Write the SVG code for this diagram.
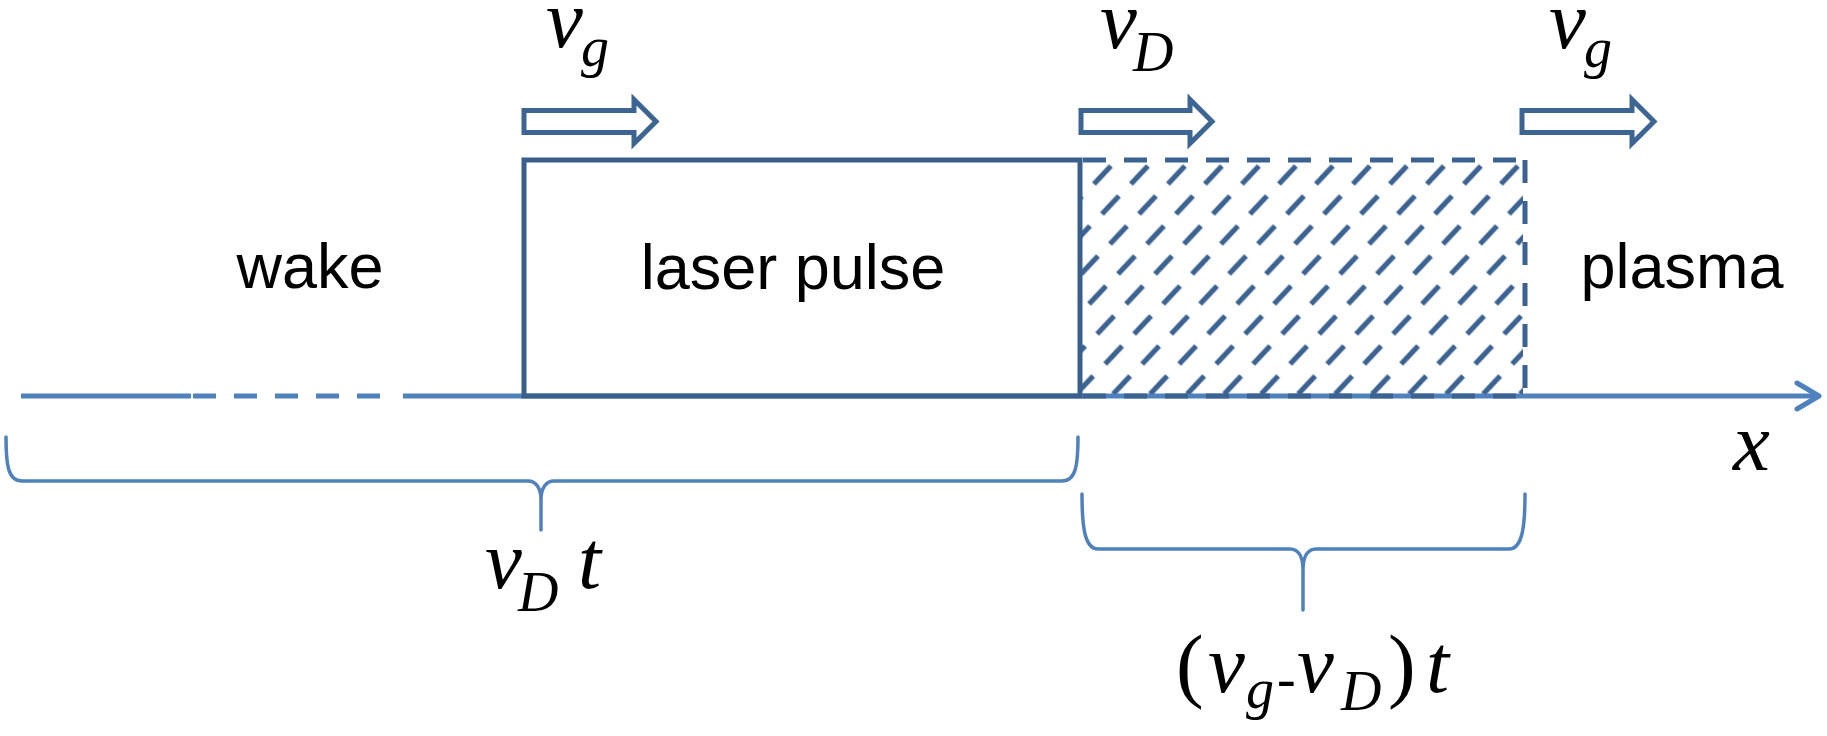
<svg xmlns="http://www.w3.org/2000/svg" width="1827" height="736" viewBox="0 0 1827 736">
<style>
.lbl{font-family:"Liberation Sans",Arial,sans-serif;font-size:63px;fill:#000;text-anchor:middle}
.m{font-family:"Liberation Serif","Times New Roman",serif;font-style:italic;font-size:83px;fill:#000}
.s{font-family:"Liberation Serif","Times New Roman",serif;font-style:italic;font-size:56px;fill:#000}
.up{font-family:"Liberation Serif","Times New Roman",serif;font-style:normal}
.box{fill:none;stroke:#3b5f8c;stroke-width:5}
.arr{fill:#fff;stroke:#3d6594;stroke-width:5;stroke-linejoin:miter}
.axis{fill:none;stroke:#4f81bd;stroke-width:5}
.brace{fill:none;stroke:#4f81bd;stroke-width:3.5;stroke-linecap:round}
.dash{fill:none;stroke:#3b6291;stroke-width:5;stroke-dasharray:23 18}
</style>
<defs>
<pattern id="hatch" patternUnits="userSpaceOnUse" width="37" height="30" patternTransform="translate(1080,160) skewX(15)">
<line x1="7.5" y1="24" x2="29.3" y2="6" stroke="#3b6291" stroke-width="4.5"/>
</pattern>
</defs>
<rect width="1827" height="736" fill="#fff"/>

<g id="connectors">
<path class="axis" d="M21,396 H191"/>
<path class="axis" d="M193,396 H384" stroke-dasharray="23 18"/>
<path class="axis" d="M403,396 H1816"/>
<polyline class="axis" points="1797,383 1819,396 1797,409" stroke-linecap="round" stroke-linejoin="round"/>
<path class="brace" d="M6,437 C6,465 8,481 22,481 H528 C536,481 541,488 541,500 V530 M541,500 C541,488 546,481 554,481 H1062 C1076,481 1078,465 1078,437"/>
<path class="brace" d="M1082,494 C1082,524 1084,549 1098,549 H1290 C1298,549 1303,556 1303,570 V610 M1303,570 C1303,556 1308,549 1316,549 H1509 C1523,549 1525,524 1525,494"/>
</g>

<g id="laser-pulse">
<rect class="box" x="524" y="160" width="556" height="236"/>
<text class="lbl" x="793" y="289">laser pulse</text>
</g>

<g id="hatched-region">
<rect x="1082" y="162" width="441" height="232" fill="url(#hatch)"/>
<path class="dash" d="M1083,160 H1525"/>
<path class="dash" d="M1525,160 V396"/>
<path class="dash" d="M1083,396 H1525"/>
</g>

<g id="wake">
<text class="lbl" x="310" y="288">wake</text>
</g>

<g id="plasma">
<text class="lbl" x="1682" y="288">plasma</text>
</g>

<g id="arrow-vg-left">
<path class="arr" d="M524,110.5 H634 V99.5 L656,121.5 L634,143.5 V132.5 H524 Z"/>
<text class="m" x="546" y="47">v</text><text class="s" x="581" y="66">g</text>
</g>

<g id="arrow-vD">
<path class="arr" d="M1081,110.5 H1190 V99.5 L1212,121.5 L1190,143.5 V132.5 H1081 Z"/>
<text class="m" x="1100" y="48">v</text><text class="s" x="1133" y="71">D</text>
</g>

<g id="arrow-vg-right">
<path class="arr" d="M1522,110.5 H1632 V99.5 L1654,121.5 L1632,143.5 V132.5 H1522 Z"/>
<text class="m" x="1549" y="48">v</text><text class="s" x="1584" y="67">g</text>
</g>

<g id="axis-label">
<text class="m" x="1733" y="470">x</text>
</g>

<g id="label-vDt">
<text class="m" x="485" y="588">v</text><text class="s" x="518" y="611">D</text><text class="m" x="578" y="588">t</text>
</g>

<g id="label-vg-vD-t">
<text class="m up" x="1176" y="692" font-size="95">(</text>
<text class="m" x="1208" y="692">v</text>
<text class="s" x="1246" y="708">g</text>
<text class="s up" x="1277" y="697">-</text>
<text class="m" x="1297" y="692">v</text>
<text class="s" x="1341" y="710">D</text>
<text class="m up" x="1388" y="692" font-size="95">)</text>
<text class="m" x="1426" y="692">t</text>
</g>
</svg>
